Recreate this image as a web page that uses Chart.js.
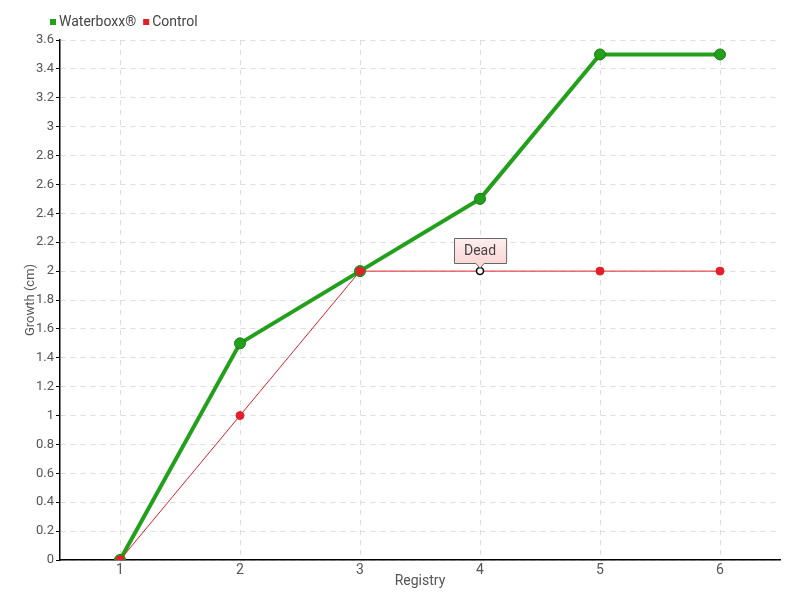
<!DOCTYPE html>
<html>
<head>
<meta charset="utf-8">
<script src="https://cdn.jsdelivr.net/npm/chart.js@4"></script>
<style>
  body { margin: 0; background: #fff; }
  #wrap { width: 800px; height: 600px; }
</style>
</head>
<body>
<div id="wrap"><canvas id="growthChart" width="800" height="600"></canvas></div>
<script>
const registries = ['1', '2', '3', '4', '5', '6'];
const waterboxx = [0, 1.5, 2, 2.5, 3.5, 3.5];
const control = [0, 1, 2, 2, 2, 2];
const notes = [null, null, null, 'Dead', null, null];

const FAMILY = 'Roboto, "DejaVu Sans", sans-serif';
const FONT = '14px ' + FAMILY;
const GREEN = '#22a01c';
const RED = '#e3202a';

const tickFont = { family: FAMILY, size: 13 };

// legend drawn by hand so it can sit at the top left like the original
const topLegend = {
    id: 'topLegend',
    afterDraw(chart) {
        const ctx = chart.ctx;
        ctx.save();
        ctx.font = FONT;
        ctx.textBaseline = 'middle';
        let x = 50;
        const y = 22;
        chart.data.datasets.forEach(function(ds) {
            ctx.fillStyle = ds.borderColor;
            ctx.fillRect(x, y - 3, 6, 6);
            x += 9;
            ctx.fillStyle = '#444';
            ctx.fillText(ds.label, x, y);
            x += ctx.measureText(ds.label).width + 7;
        });
        ctx.restore();
    }
};

// the "Dead" callout above the control point
const callouts = {
    id: 'callouts',
    afterDatasetsDraw(chart) {
        const ctx = chart.ctx;
        const meta = chart.getDatasetMeta(1);
        notes.forEach(function(text, i) {
            if (!text) return;
            const pt = meta.data[i];
            ctx.save();
            ctx.font = FONT;
            const w = ctx.measureText(text).width + 20;
            const h = 25;
            const left = Math.round(pt.x - w / 2) + 0.5;
            const bottom = Math.round(pt.y - 8) + 0.5;
            const top = bottom - h;
            const grad = ctx.createLinearGradient(0, top, 0, bottom);
            grad.addColorStop(0, '#fdeeee');
            grad.addColorStop(1, '#fbd6d6');
            ctx.beginPath();
            ctx.moveTo(left, top);
            ctx.lineTo(left + w, top);
            ctx.lineTo(left + w, bottom);
            ctx.lineTo(pt.x + 4, bottom);
            ctx.lineTo(pt.x, bottom + 5);
            ctx.lineTo(pt.x - 4, bottom);
            ctx.lineTo(left, bottom);
            ctx.closePath();
            ctx.fillStyle = grad;
            ctx.fill();
            ctx.strokeStyle = '#666';
            ctx.lineWidth = 1;
            ctx.stroke();
            ctx.fillStyle = '#444';
            ctx.textAlign = 'center';
            ctx.textBaseline = 'middle';
            ctx.fillText(text, pt.x, top + h / 2);
            ctx.restore();
        });
    }
};

const ctx = document.getElementById('growthChart').getContext('2d');
new Chart(ctx, {
    type: 'line',
    data: {
        labels: registries,
        datasets: [
            {
                label: 'Waterboxx®',
                data: waterboxx,
                borderColor: GREEN,
                backgroundColor: GREEN,
                borderWidth: 4,
                pointRadius: 5.5,
                pointBackgroundColor: GREEN,
                pointBorderColor: '#187a14',
                pointBorderWidth: 1,
                tension: 0,
                order: 1
            },
            {
                label: 'Control',
                data: control,
                borderColor: RED,
                backgroundColor: RED,
                borderWidth: 1,
                pointRadius: notes.map(n => n ? 3.5 : 4),
                pointBackgroundColor: notes.map(n => n ? '#fff' : RED),
                pointBorderColor: notes.map(n => n ? '#000' : RED),
                pointBorderWidth: notes.map(n => n ? 1.5 : 1),
                tension: 0,
                order: 0
            }
        ]
    },
    options: {
        responsive: false,
        animation: false,
        layout: { padding: { top: 40, right: 20, left: 0, bottom: 10 } },
        plugins: {
            legend: { display: false },
            tooltip: { enabled: false }
        },
        scales: {
            x: {
                offset: true,
                grid: {
                    color: '#dddddd',
                    offset: false,
                    tickLength: 2,
                    tickColor: '#dddddd'
                },
                border: { color: '#000', width: 1.5, dash: [5, 5] },
                ticks: { color: '#555', font: { family: FAMILY, size: 14 }, padding: 0 },
                title: { display: true, text: 'Registry', color: '#555', font: { family: FAMILY, size: 14 }, padding: 0 },
                afterFit(scale) { scale.height = 30; }
            },
            y: {
                min: 0,
                max: 3.6,
                grid: {
                    color: '#dddddd',
                    tickLength: 4,
                    tickColor: '#000'
                },
                border: { color: '#000', width: 1.5, dash: [5, 5] },
                ticks: {
                    stepSize: 0.2,
                    color: '#555',
                    font: tickFont,
                    padding: 2,
                    callback: v => String(Math.round(v * 10) / 10)
                },
                title: { display: true, text: 'Growth (cm)', color: '#555', font: tickFont, padding: { top: 23, bottom: 0 } },
                afterFit(scale) { scale.width = 60; }
            }
        }
    },
    plugins: [topLegend, callouts]
});
</script>
</body>
</html>
